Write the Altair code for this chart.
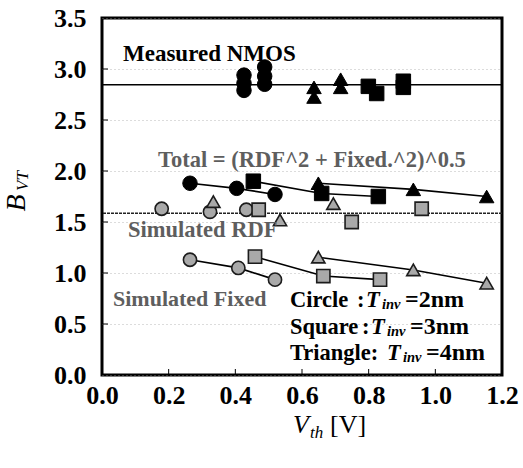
import altair as alt
import pandas as pd

# ---- data -------------------------------------------------------------
# Measured NMOS B_VT (several devices stacked at each Vth)
meas_vth = [0.426, 0.426, 0.426, 0.488, 0.488, 0.488,
            0.636, 0.636, 0.716, 0.716,
            0.799, 0.824, 0.904, 0.904]
meas_bvt = [2.79, 2.86, 2.94, 2.85, 2.93, 3.02,
            2.82, 2.725, 2.90, 2.82,
            2.83, 2.76, 2.88, 2.82]
meas_tinv = ["2nm"] * 6 + ["4nm"] * 4 + ["3nm"] * 4

# Total = sqrt(RDF^2 + Fixed^2)
total_vth = [0.264, 0.404, 0.519, 0.454, 0.659, 0.829, 0.649, 0.934, 1.154]
total_bvt = [1.88, 1.83, 1.77, 1.90, 1.78, 1.75, 1.88, 1.82, 1.75]
total_tinv = ["2nm"] * 3 + ["3nm"] * 3 + ["4nm"] * 3

# Simulated RDF contribution
rdf_vth = [0.179, 0.324, 0.433, 0.470, 0.749, 0.959, 0.334, 0.534, 0.694]
rdf_bvt = [1.63, 1.60, 1.62, 1.62, 1.50, 1.63, 1.70, 1.52, 1.68]
rdf_tinv = ["2nm"] * 3 + ["3nm"] * 3 + ["4nm"] * 3

# Simulated fixed-charge contribution
fixed_vth = [0.264, 0.409, 0.519, 0.459, 0.664, 0.834, 0.649, 0.934, 1.154]
fixed_bvt = [1.13, 1.05, 0.935, 1.16, 0.97, 0.935, 1.155, 1.03, 0.90]
fixed_tinv = ["2nm"] * 3 + ["3nm"] * 3 + ["4nm"] * 3

measured_level = 2.845
rdf_level = 1.585

x_ticks = [0.0, 0.2, 0.4, 0.6, 0.8, 1.0, 1.2]
y_ticks = [0.0, 0.5, 1.0, 1.5, 2.0, 2.5, 3.0, 3.5]

tinv_order = ["2nm", "3nm", "4nm"]
shapes = ["circle", "square", "triangle-up"]

# ---- layout -----------------------------------------------------------
W, H = 400, 357
PAD_L, PAD_T = 102, 18
SERIF = "Liberation Serif"


def frame(vth, bvt, tinv):
    return pd.DataFrame({"vth": vth, "bvt": bvt, "tinv": tinv})


meas_df = frame(meas_vth, meas_bvt, meas_tinv)
total_df = frame(total_vth, total_bvt, total_tinv)
rdf_df = frame(rdf_vth, rdf_bvt, rdf_tinv)
fixed_df = frame(fixed_vth, fixed_bvt, fixed_tinv)

xscale = alt.Scale(domain=[0, 1.2], nice=False, zero=False)
yscale = alt.Scale(domain=[0, 3.5], nice=False, zero=False)

x_axis = alt.Axis(values=x_ticks, format=".1f", title=None, ticks=False,
                  domain=False, grid=False, labelFlush=False,
                  labelFont=SERIF, labelFontWeight="bold", labelFontSize=26,
                  labelColor="black", labelPadding=7)
y_axis = alt.Axis(values=y_ticks, format=".1f", title=None, ticks=False,
                  domain=False, grid=True, gridColor="#9a9a9a",
                  gridDash=[1, 3], gridWidth=1, gridOpacity=0.7,
                  labelFont=SERIF, labelFontWeight="bold", labelFontSize=26,
                  labelColor="black", labelPadding=16)


def X(field="vth"):
    return alt.X(f"{field}:Q", scale=xscale, axis=x_axis)


def Y(field="bvt"):
    return alt.Y(f"{field}:Q", scale=yscale, axis=y_axis)


shape_enc = alt.Shape("tinv:N", scale=alt.Scale(domain=tinv_order, range=shapes),
                      legend=None)

# inward tick marks
ytick_layer = alt.Chart(pd.DataFrame({"v": y_ticks[1:-1]})).mark_rule(
    color="black", strokeWidth=1).encode(
    y=alt.Y("v:Q", scale=yscale, axis=y_axis), x=alt.value(0), x2=alt.value(6))
xtick_layer = alt.Chart(pd.DataFrame({"v": x_ticks[1:-1]})).mark_rule(
    color="black", strokeWidth=1).encode(
    x=alt.X("v:Q", scale=xscale, axis=x_axis), y=alt.value(H), y2=alt.value(H - 6))

# reference levels
meas_rule = alt.Chart(pd.DataFrame({"v": [measured_level]})).mark_rule(
    color="black", strokeWidth=1.6).encode(y=alt.Y("v:Q", scale=yscale, axis=y_axis))
rdf_rule = alt.Chart(pd.DataFrame({"v": [rdf_level]})).mark_rule(
    color="#222222", strokeWidth=1.5, strokeDash=[3, 1]).encode(
    y=alt.Y("v:Q", scale=yscale, axis=y_axis))

# connecting lines
total_line = alt.Chart(total_df).mark_line(color="black", strokeWidth=1.6).encode(
    x=X(), y=Y(), detail="tinv:N")
fixed_line = alt.Chart(fixed_df).mark_line(color="black", strokeWidth=1.6).encode(
    x=X(), y=Y(), detail="tinv:N")

black_pts = dict(filled=True, fill="black", stroke="black", strokeWidth=1,
                 opacity=1, size=210)
gray_pts = dict(filled=True, fill="#a9a9a9", stroke="#1c1c1c", strokeWidth=1.6,
                opacity=1, size=175)

meas_pts = alt.Chart(meas_df).mark_point(**black_pts).encode(
    x=X(), y=Y(), shape=shape_enc)
total_pts = alt.Chart(total_df).mark_point(**black_pts).encode(
    x=X(), y=Y(), shape=shape_enc)
rdf_pts = alt.Chart(rdf_df).mark_point(**gray_pts).encode(
    x=X(), y=Y(), shape=shape_enc)
fixed_pts = alt.Chart(fixed_df).mark_point(**gray_pts).encode(
    x=X(), y=Y(), shape=shape_enc)


def label(text, px, py, size=22, color="black", weight="bold", style="normal",
          align="left", angle=0):
    """Text placed at absolute page pixel position (px, py)."""
    return alt.Chart(alt.Data(values=[{}])).mark_text(
        text=text, font=SERIF, fontSize=size, fontWeight=weight,
        fontStyle=style, color=color, align=align, baseline="middle",
        angle=angle).encode(x=alt.value(px - PAD_L), y=alt.value(py - PAD_T))


GRAY_TXT = "#5e5e5e"
labels = [
    label("Measured NMOS", 123, 54, size=23),
    label("Total = (RDF^2 + Fixed.^2)^0.5", 158, 160, size=22.5, color=GRAY_TXT),
    label("Simulated RDF", 128, 230, size=22.5, color=GRAY_TXT),
    label("Simulated Fixed", 113, 299, size=22, color=GRAY_TXT),
]

# legend text block: (shape name, row centre, colon x, T x, subscript x, tail x)
legend_rows = [("Circle", 300, 357, 366, 382, 405, "=2nm"),
               ("Square", 327, 362, 371, 387, 410, "=3nm"),
               ("Triangle:", 353, None, 387, 403, 426, "=4nm")]
for name, yc, colon_x, t_x, sub_x, tail_x, tail in legend_rows:
    labels.append(label(name, 290, yc, size=22.5))
    if colon_x is not None:
        labels.append(label(":", colon_x, yc, size=22.5))
    labels.append(label("T", t_x, yc, size=22.5, style="italic"))
    labels.append(label("inv", sub_x, yc + 5, size=14.5, style="italic"))
    labels.append(label(tail, tail_x, yc, size=24))

# axis titles with subscripts
labels += [
    label("V", 293, 425, size=26, weight="normal", style="italic"),
    label("th", 310, 433, size=17, weight="normal", style="italic"),
    label("[V]", 330, 425, size=26, weight="normal"),
    label("B", 17, 203, size=28, weight="normal", style="italic",
          align="center", angle=270),
    label("VT", 23, 181, size=17, weight="normal", style="italic",
          align="center", angle=270),
]

chart = alt.layer(
    ytick_layer, xtick_layer, meas_rule, rdf_rule,
    total_line, fixed_line,
    rdf_pts, fixed_pts, total_pts, meas_pts,
    *labels,
).properties(
    width=W, height=H,
    autosize=alt.AutoSizeParams(type="none"),
    padding={"left": PAD_L, "top": PAD_T, "right": 523 - PAD_L - W,
             "bottom": 468 - PAD_T - H},
    background="white",
).configure_view(stroke="black", strokeWidth=3)

chart.save("out.html", embed_options={"renderer": "svg", "actions": False})
